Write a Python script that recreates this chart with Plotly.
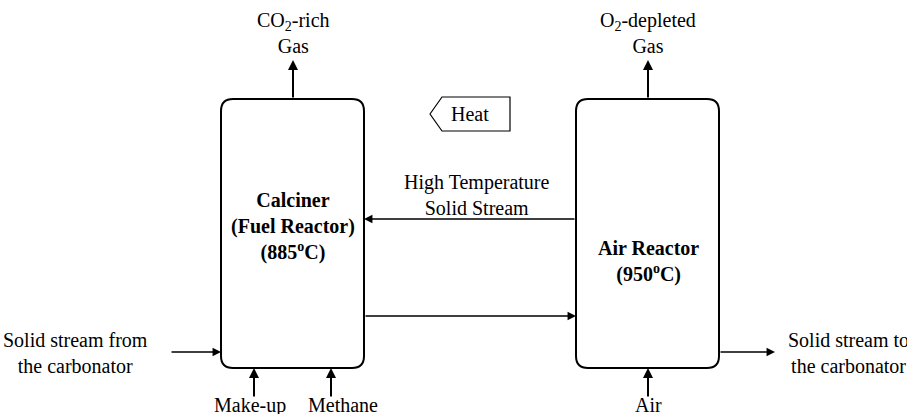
import plotly.graph_objects as go

# ---- diagram content ----
reactor_names = ["Calciner<br>(Fuel Reactor)<br>(885<sup>o</sup>C)", "Air Reactor<br>(950<sup>o</sup>C)"]
top_outputs = ["CO<sub>2</sub>-rich<br>Gas", "O<sub>2</sub>-depleted<br>Gas"]
bottom_inputs = ["Make-up", "Methane", "Air"]
side_labels = ["Solid stream from<br>the carbonator", "Solid stream to<br>the carbonator"]
transfer_label = "High Temperature<br>Solid Stream"
heat_label = "Heat"

# ---- layout geometry (pixels) ----
W, H = 907, 414
boxes = [(221, 99, 364, 368), (576, 99, 719, 368)]
R = 12
FONT = "Liberation Serif, Times New Roman, serif"
FS = 20

def rounded(x0, y0, x1, y1, r):
    return (f"M {x0+r},{y0} L {x1-r},{y0} Q {x1},{y0} {x1},{y0+r} "
            f"L {x1},{y1-r} Q {x1},{y1} {x1-r},{y1} L {x0+r},{y1} "
            f"Q {x0},{y1} {x0},{y1-r} L {x0},{y0+r} Q {x0},{y0} {x0+r},{y0} Z")

fig = go.Figure()
shapes = []
for b in boxes:
    shapes.append(dict(type="path", path=rounded(*b, R), line=dict(color="black", width=2),
                       fillcolor="white", xref="x", yref="y"))
# heat pentagon
shapes.append(dict(type="path", path="M 430,114 L 442,97 L 510,97 L 510,131 L 442,131 Z",
                   line=dict(color="black", width=1.2), fillcolor="white", xref="x", yref="y"))

ann = []
def arrow(x_head, y_head, x_tail, y_tail, w=1.5):
    ann.append(dict(x=x_head, y=y_head, ax=x_tail, ay=y_tail, xref="x", yref="y",
                    axref="x", ayref="y", text="", showarrow=True, arrowhead=2,
                    arrowsize=1.3 if w < 2 else 1.0, arrowwidth=w, arrowcolor="black", standoff=0))

def label(x, y, t, bold=False, xanchor="center", size=FS):
    ann.append(dict(x=x, y=y, xref="x", yref="y", text=f"<b>{t}</b>" if bold else t,
                    showarrow=False, xanchor=xanchor, yanchor="middle",
                    font=dict(family=FONT, size=size, color="black")))

# top outputs
arrow(293, 60, 293, 99, 2)
arrow(648, 60, 648, 99, 2)
label(293, 33, top_outputs[0])
label(648, 33, top_outputs[1])

# heat
label(470, 114, heat_label)

# transfer arrows
arrow(364, 219, 576, 219, 1.3)
label(477, 195, transfer_label)
arrow(576, 316, 364, 316, 1.3)

# side streams
arrow(221, 352, 170, 352, 1.3)
label(75, 353, side_labels[0])
arrow(775, 352, 719, 352, 1.3)
label(786, 353, side_labels[1], xanchor="left")

# bottom inputs
for x, lx, t in zip([254, 331, 648], [250, 343, 648], bottom_inputs):
    arrow(x, 368, x, 398, 2)
    label(lx, 405, t)

# reactor names
label(293, 226, reactor_names[0], bold=True)
label(648, 261, reactor_names[1], bold=True)

fig.update_layout(width=W, height=H, margin=dict(l=0, r=0, t=0, b=0),
                  paper_bgcolor="white", plot_bgcolor="white",
                  xaxis=dict(range=[0, W], visible=False, fixedrange=True),
                  yaxis=dict(range=[H, 0], visible=False, fixedrange=True),
                  shapes=shapes, annotations=ann, showlegend=False)
fig.write_html("out.html", config={"displayModeBar": False},
               post_script="document.body.style.margin='0';document.body.style.overflow='hidden';")
